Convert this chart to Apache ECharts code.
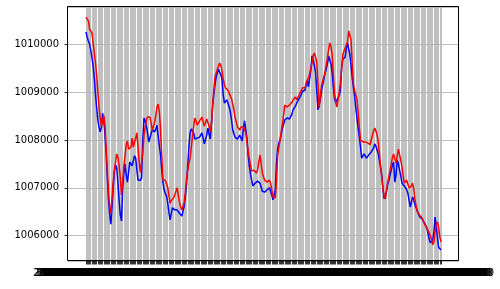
<!DOCTYPE html>
<html>
<head>
<meta charset="utf-8">
<script src="https://cdn.jsdelivr.net/npm/echarts@6/dist/echarts.min.js"></script>
<style>
html,body{margin:0;padding:0;background:#fff;}
#c{width:500px;height:289px;}
</style>
</head>
<body>
<div id="c"></div>
<script>
// Red series (plotted on top)
const redValues = [
1010570,1010550,1010490,1010320,1010340,1010240,1010030,1009820,1009610,1009360,
1009000,1008690,1008440,1008290,1008380,1008520,1008330,1007850,1007370,1006910,
1006600,1006470,1006790,1007140,1007370,1007540,1007710,1007640,1007460,1007210,
1006850,1007120,1007460,1007670,1007900,1007980,1007810,1007830,1007850,1008040,
1007850,1007960,1008040,1008150,1007830,1007520,1007330,1007370,1007730,1008100,
1008270,1008420,1008480,1008500,1008480,1008360,1008210,1008190,1008360,1008520,
1008690,1008750,1008590,1008210,1007690,1007160,1007140,1007160,1007120,1007020,
1006850,1006680,1006730,1006750,1006790,1006850,1006930,1007000,1006850,1006700,
1006600,1006540,1006500,1006700,1006910,1007210,1007370,1007520,1007620,1007850,
1008080,1008290,1008460,1008400,1008310,1008290,1008400,1008440,1008480,1008380,
1008290,1008330,1008440,1008460,1008290,1008170,1008330,1008710,1009040,1009320,
1009400,1009480,1009550,1009610,1009550,1009440,1009270,1009150,1009090,1009070,
1009040,1008980,1008920,1008860,1008750,1008630,1008460,1008380,1008270,1008230,
1008210,1008270,1008310,1008270,1008250,1008150,1007960,1007770,1007620,1007480,
1007350,1007350,1007370,1007350,1007310,1007370,1007540,1007690,1007520,1007310,
1007230,1007160,1007140,1007120,1007140,1007160,1007100,1006960,1006810,1006770,
1006790,1007160,1007690,1007850,1008000,1008170,1008330,1008520,1008730,1008730,
1008690,1008690,1008730,1008750,1008790,1008840,1008880,1008900,1008840,1008880,
1008940,1008980,1009040,1009090,1009110,1009090,1009190,1009250,1009300,1009380,
1009500,1009610,1009760,1009820,1009730,1009630,1009210,1008670,1008920,1009130,
1009230,1009320,1009420,1009570,1009710,1009880,1010030,1009960,1009800,1009380,
1008980,1008790,1008690,1008840,1009000,1009190,1009460,1009780,1009860,1009920,
1009990,1010050,1010280,1010260,1010090,1009570,1009170,1009040,1008940,1008840,
1008590,1008250,1008000,1007980,1007960,1007940,1007960,1007920,1007940,1007920,
1007900,1008000,1008100,1008190,1008250,1008190,1008100,1007960,1007690,1007460,
1007210,1006960,1006830,1006770,1006960,1007120,1007250,1007370,1007500,1007640,
1007710,1007600,1007520,1007670,1007810,1007790,1007580,1007440,1007250,1007100,
1007140,1007160,1007080,1007000,1006960,1007040,1007100,1006960,1006750,1006620,
1006500,1006470,1006430,1006410,1006370,1006310,1006240,1006200,1006160,1006120,
1006060,1005990,1005930,1005810,1005870,1006100,1006240,1006290,1006180,1005970,
1005870
];
// Blue series
const blueValues = [
1010260,1010150,1010070,1010010,1009880,1009730,1009550,1009300,1008960,1008670,
1008420,1008270,1008170,1008270,1008560,1008400,1008130,1007730,1007210,1006750,
1006450,1006240,1006600,1007000,1007350,1007480,1007410,1007100,1006730,1006430,
1006310,1006960,1007310,1007500,1007270,1007120,1007330,1007540,1007520,1007460,
1007480,1007670,1007620,1007370,1007160,1007140,1007160,1007210,1008000,1008460,
1008400,1008290,1008150,1007960,1008000,1008130,1008210,1008190,1008170,1008230,
1008310,1008080,1007870,1007690,1007370,1007120,1006960,1006890,1006830,1006700,
1006500,1006330,1006450,1006580,1006560,1006540,1006520,1006540,1006500,1006470,
1006450,1006410,1006390,1006620,1006830,1007080,1007480,1007870,1008150,1008230,
1008250,1008150,1008020,1008000,1008040,1008060,1008060,1008100,1008150,1008040,
1007920,1007920,1008100,1008250,1008130,1008020,1008330,1008710,1008960,1009150,
1009320,1009400,1009480,1009440,1009360,1009250,1008940,1008770,1008790,1008840,
1008770,1008690,1008590,1008420,1008210,1008130,1008060,1008020,1008020,1008060,
1008100,1008040,1007980,1008250,1008400,1008210,1008040,1007690,1007460,1007290,
1007160,1007040,1007060,1007100,1007140,1007140,1007120,1007100,1007020,1006930,
1006890,1006910,1006930,1006960,1006980,1007000,1006960,1006850,1006750,1006770,
1006960,1007520,1007830,1007940,1008000,1008130,1008250,1008330,1008420,1008440,
1008460,1008480,1008440,1008480,1008540,1008630,1008670,1008710,1008750,1008820,
1008860,1008900,1008960,1009020,1009040,1009040,1009150,1009250,1009110,1009090,
1009460,1009760,1009670,1009550,1009420,1009040,1008630,1008670,1008840,1009020,
1009150,1009270,1009400,1009480,1009590,1009760,1009730,1009590,1009400,1009110,
1008860,1008790,1008790,1008880,1008940,1009040,1009500,1009690,1009710,1009730,
1009920,1010030,1010010,1009780,1009550,1009300,1009090,1008920,1008670,1008460,
1008250,1008060,1007850,1007620,1007640,1007710,1007710,1007620,1007600,1007690,
1007730,1007750,1007770,1007830,1007920,1007870,1007790,1007710,1007560,1007410,
1007250,1006960,1006770,1006750,1006930,1007080,1007160,1007270,1007370,1007480,
1007540,1007120,1007270,1007580,1007500,1007370,1007250,1007100,1007060,1007040,
1007000,1006960,1006890,1006750,1006600,1006700,1006810,1006750,1006640,1006580,
1006520,1006450,1006390,1006370,1006350,1006310,1006270,1006220,1006160,1006060,
1005930,1005850,1005890,1005910,1006080,1006390,1006200,1005950,1005760,1005720,
1005700
];
// x tick labels (one per observation, hourly timestamps; unreadable in the source as they overlap)
const categories = [];
(function(){
  const start = Date.UTC(2021, 0, 1, 0, 0, 0);
  const p = n => String(n).padStart(2, '0');
  for (let i = 0; i < redValues.length; i++) {
    const d = new Date(start + i * 3600 * 1000);
    categories.push(d.getUTCFullYear() + '-' + p(d.getUTCMonth() + 1) + '-' + p(d.getUTCDate()) + ' ' +
      p(d.getUTCHours()) + ':' + p(d.getUTCMinutes()) + ':' + p(d.getUTCSeconds()));
  }
})();
const yMin = 1005471, yMax = 1010780;

const font = 'DejaVu Sans';
const chart = echarts.init(document.getElementById('c'), null, {renderer: 'canvas'});
chart.setOption({
  animation: false,
  backgroundColor: '#ffffff',
  grid: [
    {left: 68, right: 41, top: 7, bottom: 28, show: false, containLabel: false},
    {left: 86, right: 59, top: 7, bottom: 28, show: false, containLabel: false}
  ],
  graphic: [
    {type: 'rect', z: 100, silent: true,
      shape: {x: 67.5, y: 6.5, width: 391, height: 254},
      style: {fill: 'none', stroke: '#000', lineWidth: 1}}
  ],
  xAxis: [
    {type: 'value', gridIndex: 0, show: false, min: 0, max: 1},
    {
      type: 'category', gridIndex: 1, data: categories, boundaryGap: false,
      axisLine: {show: false},
      axisTick: {show: true, interval: 0, length: 3.5, lineStyle: {color: '#000', width: 0.8}},
      axisLabel: {show: true, interval: 0, margin: 7, fontFamily: font, fontSize: 10, color: '#000', hideOverlap: false},
      splitLine: {show: true, interval: 0, lineStyle: {color: '#b0b0b0', width: 0.8}}
    }
  ],
  yAxis: [
    {
      type: 'value', gridIndex: 0, min: yMin, max: yMax, splitNumber: 5,
      axisLine: {show: false},
      axisTick: {show: true, length: 3.5, lineStyle: {color: '#000', width: 0.8}},
      axisLabel: {margin: 9, fontFamily: font, fontSize: 10, color: '#000',
        showMinLabel: false, showMaxLabel: false,
        formatter: v => (Math.abs(v % 1000) < 1e-6 ? String(v) : '')},
      splitLine: {show: true, lineStyle: {color: '#b0b0b0', width: 0.8}}
    },
    {type: 'value', gridIndex: 1, min: yMin, max: yMax, show: false, splitLine: {show: false}}
  ],
  series: [
    {type: 'line', xAxisIndex: 1, yAxisIndex: 1, data: blueValues, showSymbol: false,
      lineStyle: {color: '#0000ff', width: 1.5}, itemStyle: {color: '#0000ff'}},
    {type: 'line', xAxisIndex: 1, yAxisIndex: 1, data: redValues, showSymbol: false,
      lineStyle: {color: '#ff0000', width: 1.5}, itemStyle: {color: '#ff0000'}}
  ]
});
</script>
</body>
</html>
